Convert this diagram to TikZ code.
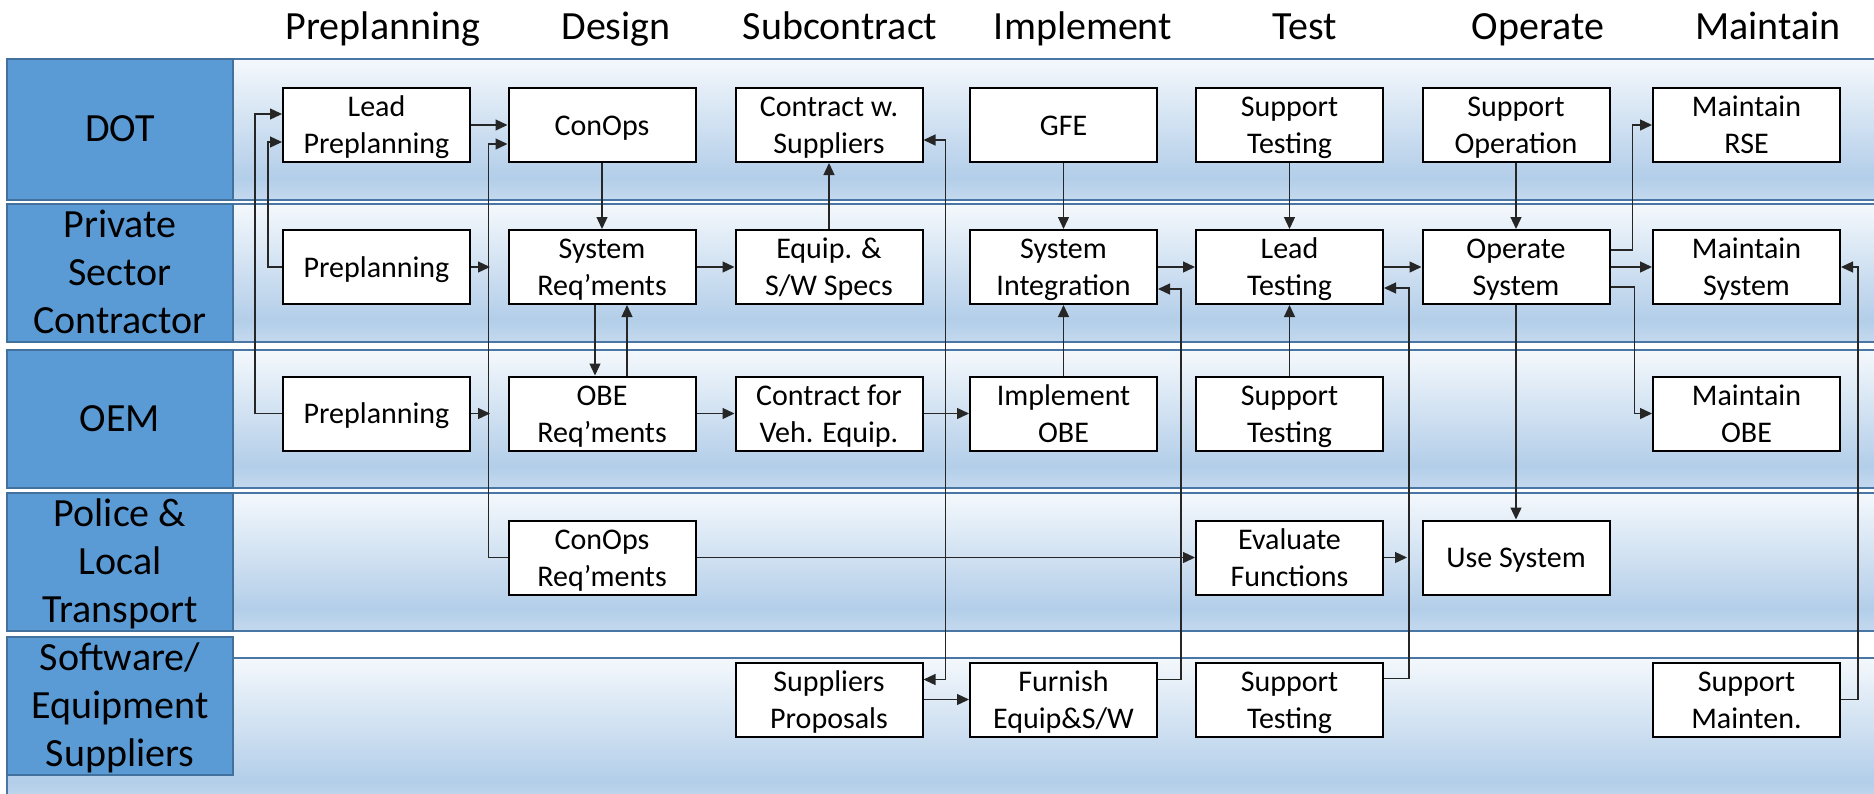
\documentclass[tikz,border=0pt]{standalone}
\usepackage{fontspec}
\setmainfont{Carlito}
\usetikzlibrary{arrows.meta}
\definecolor{lblfill}{HTML}{5B9BD5}
\definecolor{lblline}{HTML}{41719C}
\definecolor{laneline}{HTML}{4A76A6}
\definecolor{lanetop}{HTML}{F4F8FC}
\definecolor{lanemid}{HTML}{B3CEE9}
\definecolor{lanebot}{HTML}{C4D9EE}
\definecolor{connc}{HTML}{262626}
\pgfdeclareverticalshading{laneshade}{100bp}{color(0bp)=(lanebot); color(25bp)=(lanebot); color(33bp)=(lanemid); color(75bp)=(lanetop); color(100bp)=(lanetop)}
\newcommand\boxtxt[1]{\rule{0pt}{28pt}#1\rule[-7.5pt]{0pt}{7.5pt}}
\newcommand\lanetxt[1]{\rule{0pt}{36pt}#1\rule[-12pt]{0pt}{12pt}}
\begin{document}
\begin{tikzpicture}[x=1pt,y=-1pt,
  lane/.style={shading=laneshade, draw=laneline, line width=1.8pt},
  lbl/.style={fill=lblfill, draw=lblline, line width=1.8pt},
  lbltext/.style={align=center, font=\fontsize{40}{48}\selectfont, inner sep=0pt},
  hdr/.style={anchor=base, font=\fontsize{40}{48}\selectfont, inner sep=0pt},
  box/.style={draw=black, fill=white, line width=2pt, minimum width=187pt, minimum height=74pt, inner sep=0pt, align=center, font=\fontsize{30}{37}\selectfont},
  conn/.style={draw=connc, line width=1.3pt, -{Triangle[length=12pt,width=11pt]}},
  biconn/.style={draw=connc, line width=1.3pt, {Triangle[length=12pt,width=11pt]}-{Triangle[length=12pt,width=11pt]}}
]
\useasboundingbox (0,0) rectangle (1874,793);
\fill[white] (0,0) rectangle (1874,793);

% lanes
\path[lane] (7,59) rectangle (1890,200);
\path[lane] (7,204) rectangle (1890,342);
\path[lane] (7,350) rectangle (1890,488);
\path[lane] (7,493) rectangle (1890,631);
\path[lane] (7,658) rectangle (1890,805);

% lane labels
\draw[lbl] (7,59) rectangle (233,200);
\draw[lbl] (7,204) rectangle (233,342);
\draw[lbl] (7,350) rectangle (233,488);
\draw[lbl] (7,493) rectangle (233,631);
\draw[lbl] (7,637) rectangle (233,775);
\node[lbltext] (lDOT) at (120,129.5) {\lanetxt{DOT}};
\node[lbltext] (lPSC) at (120,273) {\lanetxt{Private\\Sector\\Contractor}};
\node[lbltext] (lOEM) at (120,419) {\lanetxt{OEM}};
\node[lbltext] (lPOL) at (120,562) {\lanetxt{Police \&\\Local\\Transport}};
\node[lbltext] (lSW) at (120,706) {\lanetxt{Software/\\Equipment\\Suppliers}};

% headers
\node[hdr] (hPre) at (383,39.5) {Preplanning};
\node[hdr] (hDes) at (616,39.5) {Design};
\node[hdr] (hSub) at (840,39.5) {Subcontract};
\node[hdr] (hImp) at (1083,39.5) {Implement};
\node[hdr] (hTst) at (1305,39.5) {Test};
\node[hdr] (hOpe) at (1538,39.5) {Operate};
\node[hdr] (hMnt) at (1768,39.5) {Maintain};

% row 1: DOT
\node[box] (lead) at (376.5,125) {\boxtxt{Lead\\Preplanning}};
\node[box] (conops) at (602,125) {\boxtxt{ConOps}};
\node[box] (contract) at (829,125) {\boxtxt{Contract w.\\Suppliers}};
\node[box] (gfe) at (1063.5,125) {\boxtxt{GFE}};
\node[box] (suptestA) at (1289.5,125) {\boxtxt{Support\\Testing}};
\node[box] (supop) at (1516,125) {\boxtxt{Support\\Operation}};
\node[box] (mrse) at (1746.5,125) {\boxtxt{Maintain\\RSE}};
% row 2: private sector
\node[box] (pre2) at (376.5,267) {\boxtxt{Preplanning}};
\node[box] (sysreq) at (602,267) {\boxtxt{System\\Req’ments}};
\node[box] (specs) at (829,267) {\boxtxt{Equip. \&\\S/W Specs}};
\node[box] (sysint) at (1063.5,267) {\boxtxt{System\\Integration}};
\node[box] (leadtest) at (1289.5,267) {\boxtxt{Lead\\Testing}};
\node[box] (operate) at (1516,267) {\boxtxt{Operate\\System}};
\node[box] (msys) at (1746.5,267) {\boxtxt{Maintain\\System}};
% row 3: OEM
\node[box] (pre3) at (376.5,413.5) {\boxtxt{Preplanning}};
\node[box] (obe) at (602,413.5) {\boxtxt{OBE\\Req’ments}};
\node[box] (cveh) at (829,413.5) {\boxtxt{Contract for\\Veh. Equip.}};
\node[box] (impl) at (1063.5,413.5) {\boxtxt{Implement\\OBE}};
\node[box] (suptestB) at (1289.5,413.5) {\boxtxt{Support\\Testing}};
\node[box] (mobe) at (1746.5,413.5) {\boxtxt{Maintain\\OBE}};
% row 4: police
\node[box] (creq) at (602,557.5) {\boxtxt{ConOps\\Req’ments}};
\node[box] (eval) at (1289.5,557.5) {\boxtxt{Evaluate\\Functions}};
\node[box] (usesys) at (1516,557.5) {\boxtxt{Use System}};
% row 5: suppliers
\node[box] (proposals) at (829,699.5) {\boxtxt{Suppliers\\Proposals}};
\node[box] (furnish) at (1063.5,699.5) {\boxtxt{Furnish\\Equip\&S/W}};
\node[box] (suptestC) at (1289.5,699.5) {\boxtxt{Support\\Testing}};
\node[box] (smaint) at (1746.5,699.5) {\boxtxt{Support\\Mainten.}};

% junction points on vertical lines
\coordinate (j1) at (490,267);
\coordinate (j2) at (490,413.5);
\coordinate (j3) at (1407,557.5);

% connectors
\draw[conn] (pre3.west) -- ++(-27,0) |- ([yshift=11pt]lead.west);
\draw[conn] (pre2.west) -- ++(-14,0) |- ([yshift=-17pt]lead.west);
\draw[conn] (lead) -- (conops);
\draw[conn] (creq.west) -- ++(-19,0) |- ([yshift=-19pt]conops.west);
\draw[conn] (pre2) -- (j1);
\draw[conn] (pre3) -- (j2);
\draw[conn] (conops) -- (sysreq);
\draw[conn] ([xshift=-7pt]sysreq.south) -- ([xshift=-7pt]obe.north);
\draw[conn] ([xshift=25pt]obe.north) -- ([xshift=25pt]sysreq.south);
\draw[conn] (sysreq) -- (specs);
\draw[conn] (specs) -- (contract);
\draw[conn] (obe) -- (cveh);
\draw[conn] (cveh) -- (impl);
\draw[conn] (impl) -- (sysint);
\draw[conn] (gfe) -- (sysint);
\draw[conn] (sysint) -- (leadtest);
\draw[conn] ([yshift=20pt]furnish.east) -- ++(23,0) |- ([yshift=-22pt]sysint.east);
\draw[biconn] ([yshift=-15pt]contract.east) -- ++(22,0) |- ([yshift=20pt]proposals.east);
\draw[conn] (proposals) -- (furnish);
\draw[conn] (creq) -- (eval);
\draw[conn] (suptestA) -- (leadtest);
\draw[conn] (suptestB) -- (leadtest);
\draw[conn] (leadtest) -- (operate);
\draw[conn] ([yshift=21pt]suptestC.east) -- ++(25,0) |- ([yshift=-21pt]leadtest.east);
\draw[conn] (eval) -- (j3);
\draw[conn] (supop) -- (operate);
\draw[conn] ([yshift=17pt]operate.east) -- ++(22,0) |- (mrse.west);
\draw[conn] (operate) -- (msys);
\draw[conn] ([yshift=-20pt]operate.east) -- ++(24,0) |- (mobe.west);
\draw[conn] (operate) -- (usesys);
\draw[conn] (smaint.east) -- ++(17,0) |- (msys.east);
\end{tikzpicture}
\end{document}
